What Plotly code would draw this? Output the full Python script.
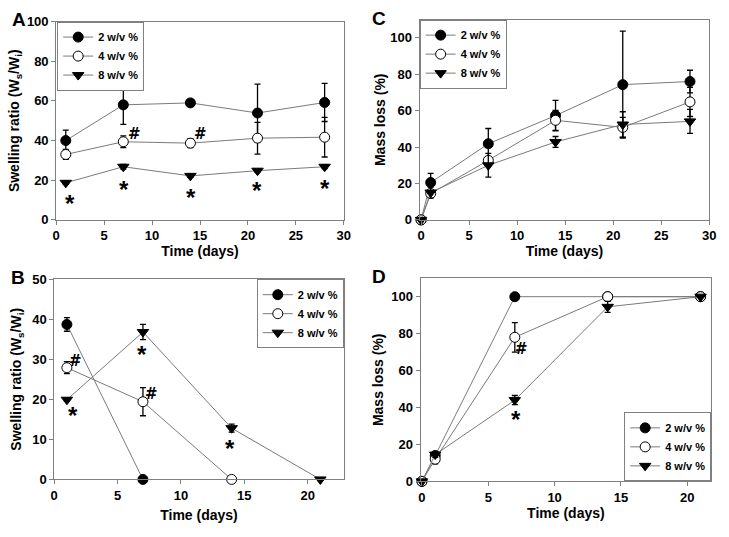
import plotly.graph_objects as go

# ---------------- data ----------------
series_names = ["2 w/v %", "4 w/v %", "8 w/v %"]

# Panel A: swelling ratio, days
A_days = [1, 7, 14, 21, 28]
A_2 = [40.0, 58.0, 59.0, 53.9, 59.2]
A_2_err = [5.3, 9.8, 1.5, 14.6, 9.6]
A_4 = [33.0, 39.4, 38.7, 41.2, 41.7]
A_4_err = [2.5, 3.0, 2.3, 8.0, 10.0]
A_8 = [18.7, 26.8, 22.2, 24.8, 26.8]
A_8_err = [0.8, 1.2, 0.8, 0.8, 1.0]

# Panel C: mass loss, days
C_days = [0, 1, 7, 14, 21, 28]
C_2 = [0, 20.5, 41.8, 57.3, 74.3, 76.0]
C_2_err = [0, 5.0, 8.4, 8.4, 29.4, 6.2]
C_4 = [0, 14.5, 32.7, 54.7, 50.8, 64.8]
C_4_err = [0, 1.5, 2.0, 5.5, 5.5, 8.0]
C_8 = [0, 15.0, 30.0, 42.8, 52.4, 54.1]
C_8_err = [0, 3.0, 6.5, 3.0, 7.0, 6.6]

# Panel B: swelling ratio, days
B_days_2 = [1, 7]
B_2 = [38.7, 0]
B_2_err = [1.7, 0]
B_days_4 = [1, 7, 14]
B_4 = [27.9, 19.4, 0]
B_4_err = [1.5, 3.5, 0]
B_days_8 = [1, 7, 14, 21]
B_8 = [19.9, 36.8, 12.8, 0]
B_8_err = [0.4, 1.9, 1.0, 0]

# Panel D: mass loss, days
D_days = [0, 1, 7, 14, 21]
D_2 = [0, 14.0, 100, 100, 100]
D_2_err = [0, 2.0, 0, 0, 0]
D_4 = [0, 12.0, 78.0, 100, 100]
D_4_err = [0, 2.5, 8.0, 0, 0]
D_8 = [0, 14.5, 44.0, 94.5, 100]
D_8_err = [0, 1.5, 2.5, 3.0, 0]

# significance marks: (x, y, text)
A_marks = [(1.4, 11.3, "*"), (7.06, 18.3, "*"), (14.1, 14.2, "*"), (20.9, 17.8, "*"),
           (28.05, 19.1, "*"), (8.15, 43.1, "#"), (15.1, 43.1, "#")]
B_marks = [(1.69, 29.6, "#"), (1.48, 17.5, "*"), (6.9, 32.6, "*"), (13.9, 9.3, "*"),
           (7.7, 21.3, "#")]
D_marks = [(7.47, 71.5, "#"), (7.06, 37.0, "*")]

# ---------------- figure ----------------
W, H = 729, 537
FONT = "Liberation Sans, Arial, sans-serif"
FRAME = "#808080"
LINE = "#7a7a7a"

styles = [
    dict(symbol="circle", color="black", line=dict(color="black", width=1)),
    dict(symbol="circle", color="white", line=dict(color="black", width=1)),
    dict(symbol="triangle-down", color="black", line=dict(color="black", width=1)),
]

fig = go.Figure()


def add_series(xs, ys, errs, idx, xa, ya, leg):
    st = styles[idx]
    fig.add_trace(go.Scatter(
        x=xs, y=ys, mode="lines+markers", name=series_names[idx],
        xaxis=xa, yaxis=ya, legend=leg, cliponaxis=False,
        line=dict(color=LINE, width=1),
        marker=dict(symbol=st["symbol"], size=10, color=st["color"], line=st["line"]),
        error_y=dict(type="data", array=errs, color="black", thickness=1.3, width=3),
    ))


add_series(A_days, A_2, A_2_err, 0, "x", "y", "legend")
add_series(A_days, A_4, A_4_err, 1, "x", "y", "legend")
add_series(A_days, A_8, A_8_err, 2, "x", "y", "legend")

add_series(C_days, C_2, C_2_err, 0, "x2", "y2", "legend2")
add_series(C_days, C_4, C_4_err, 1, "x2", "y2", "legend2")
add_series(C_days, C_8, C_8_err, 2, "x2", "y2", "legend2")

add_series(B_days_2, B_2, B_2_err, 0, "x3", "y3", "legend3")
add_series(B_days_4, B_4, B_4_err, 1, "x3", "y3", "legend3")
add_series(B_days_8, B_8, B_8_err, 2, "x3", "y3", "legend3")

add_series(D_days, D_2, D_2_err, 0, "x4", "y4", "legend4")
add_series(D_days, D_4, D_4_err, 1, "x4", "y4", "legend4")
add_series(D_days, D_8, D_8_err, 2, "x4", "y4", "legend4")


def px(v):
    return v / W


def py(v):
    return 1 - v / H


def axis(domain, rng, dtick, anchor, title=None, standoff=4):
    d = dict(domain=domain, range=rng, dtick=dtick, anchor=anchor,
             showgrid=False, zeroline=False, showline=True, mirror=True,
             linecolor=FRAME, linewidth=1, ticks="outside", ticklen=4,
             tickcolor=FRAME, tickwidth=1,
             tickfont=dict(family=FONT, size=13, color="black", weight="bold"))
    if title:
        d["title"] = dict(text=title, standoff=standoff,
                          font=dict(family=FONT, size=14, color="black", weight="bold"))
    return d


ytitle_sw = "Swelling ratio (W<sub>s</sub>/W<sub>i</sub>)"
ytitle_ml = "Mass loss (%)"
xtitle = "Time (days)"

legend_common = dict(font=dict(family=FONT, size=11, color="black", weight="bold"),
                     bgcolor="white", bordercolor=FRAME, borderwidth=1,
                     itemwidth=30, tracegroupgap=0)

fig.update_layout(
    width=W, height=H, margin=dict(l=0, r=0, t=0, b=0),
    paper_bgcolor="white", plot_bgcolor="white",
    font=dict(family=FONT, color="black"),
    xaxis=axis([px(53), px(345)], [0, 30], 5, "y", xtitle, 0),
    yaxis=axis([py(219), py(15)], [0, 100], 20, "x", ytitle_sw, 3),
    xaxis2=axis([px(422), px(716)], [-0.15, 30], 5, "y2", xtitle, 0),
    yaxis2=axis([py(219), py(13)], [0, 110], 20, "x2", ytitle_ml, 1),
    xaxis3=axis([px(51), px(345)], [0, 22.85], 5, "y3", xtitle, 8),
    yaxis3=axis([py(486), py(280)], [0, 50], 10, "x3", ytitle_sw, 7),
    xaxis4=axis([px(423), px(718)], [-0.1, 21.8], 5, "y4", xtitle, 2),
    yaxis4=axis([py(488), py(279)], [0, 110], 20, "x4", ytitle_ml, 4),
    legend=dict(x=px(54), y=py(15), xanchor="left", yanchor="top", **legend_common),
    legend2=dict(x=px(422), y=py(13), xanchor="left", yanchor="top", **legend_common),
    legend3=dict(x=px(345), y=py(280), xanchor="right", yanchor="top", **legend_common),
    legend4=dict(x=px(718), y=py(488), xanchor="right", yanchor="bottom", **legend_common),
    showlegend=True,
)

annotations = []
for (xv, yv, t) in A_marks:
    annotations.append((xv, yv, t, "x", "y"))
for (xv, yv, t) in B_marks:
    annotations.append((xv, yv, t, "x3", "y3"))
for (xv, yv, t) in D_marks:
    annotations.append((xv, yv, t, "x4", "y4"))

for xv, yv, t, xr, yr in annotations:
    if t == "*":
        f = dict(family=FONT, size=24, color="black", weight="bold")
        shift = -6
    else:
        f = dict(family="DejaVu Sans", size=15, color="black", weight="bold")
        shift = 0
    fig.add_annotation(x=xv, y=yv, xref=xr, yref=yr, text=t, showarrow=False,
                       xanchor="center", yanchor="middle", yshift=shift, font=f)

for letter, (lx, ly) in {"A": (15, 13), "C": (381, 12), "B": (14, 278), "D": (381, 277)}.items():
    fig.add_annotation(x=px(lx), y=py(ly), xref="paper", yref="paper", text=letter,
                       showarrow=False, xanchor="center", yanchor="middle",
                       font=dict(family=FONT, size=19, color="black", weight="bold"))

fig.write_html("out.html", config={"displayModeBar": False},
               post_script="document.body.style.margin='0';")
